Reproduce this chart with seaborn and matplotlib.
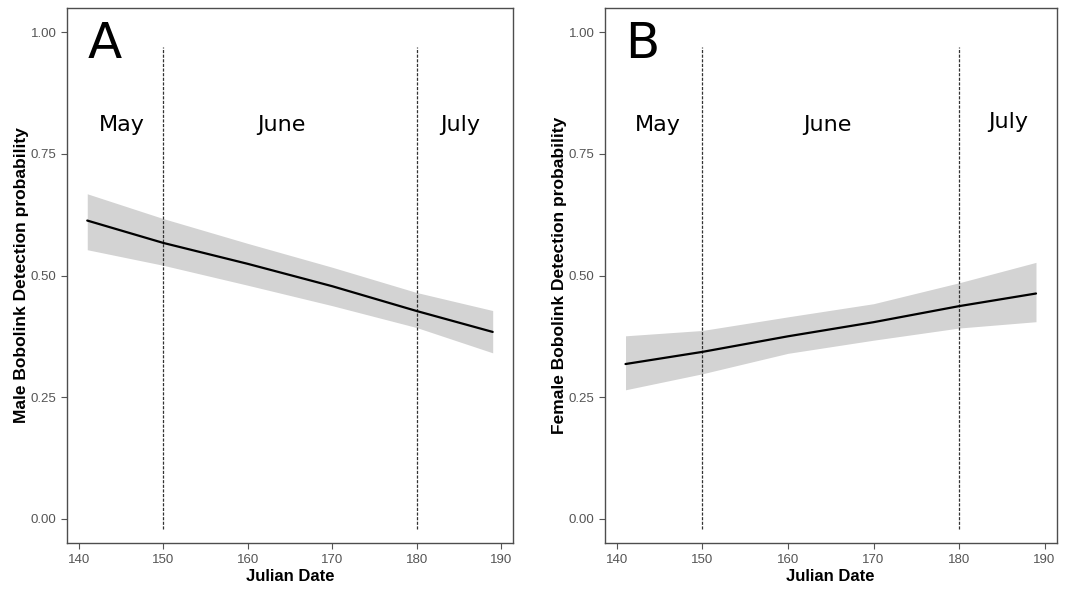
import numpy as np
import pandas as pd
import matplotlib
matplotlib.use("Agg")
import matplotlib.pyplot as plt
import seaborn as sns

# values
julian = [141, 150, 160, 170, 180, 189]

male_fit = [0.613, 0.567, 0.524, 0.478, 0.427, 0.384]
male_upper = [0.668, 0.617, 0.566, 0.517, 0.465, 0.428]
male_lower = [0.553, 0.521, 0.480, 0.438, 0.393, 0.341]

female_fit = [0.318, 0.343, 0.375, 0.404, 0.437, 0.463]
female_upper = [0.376, 0.387, 0.415, 0.442, 0.485, 0.527]
female_lower = [0.265, 0.298, 0.340, 0.367, 0.392, 0.405]

month_breaks = [150, 180]
month_names = ["May", "June", "July"]
month_x = {"A": [145.1, 164.0, 185.2], "B": [144.8, 164.6, 185.7]}
month_y = {"A": [0.81, 0.81, 0.81], "B": [0.81, 0.81, 0.815]}

sns.set_style("white")
plt.rcParams['font.family'] = ['Liberation Sans', 'DejaVu Sans']

fig = plt.figure(figsize=(10.7, 5.93), dpi=100)
axA = fig.add_axes([0.0626, 0.0843, 0.4168, 0.9022])
axB = fig.add_axes([0.5654, 0.0843, 0.4220, 0.9022])

panels = [
    (axA, "A", male_fit, male_upper, male_lower, "Male Bobolink Detection probability"),
    (axB, "B", female_fit, female_upper, female_lower, "Female Bobolink Detection probability"),
]

for ax, tag, fit, up, lo, ylab in panels:
    df = pd.DataFrame({"Julian Date": julian, "p": fit})
    ax.fill_between(julian, lo, up, color="#d3d3d3", lw=0, zorder=1)
    sns.lineplot(data=df, x="Julian Date", y="p", color="black", lw=1.6, ax=ax, zorder=3)
    for b in month_breaks:
        ax.plot([b, b], [-0.022, 0.97], ls=(0, (2.5, 1.2)), color="#333333", lw=0.9, zorder=2)
    for name, mx, my in zip(month_names, month_x[tag], month_y[tag]):
        ax.text(mx, my, name, ha="center", va="center", fontsize=16, color="black",
                family="DejaVu Sans")
    ax.text(141.0, 0.975, tag, ha="left", va="center", fontsize=36, color="black",
            family="DejaVu Sans")

    ax.set_xlim(138.6, 191.4)
    ax.set_ylim(-0.05, 1.05)
    ax.set_xticks([140, 150, 160, 170, 180, 190])
    ax.set_yticks([0.0, 0.25, 0.5, 0.75, 1.0])
    ax.set_yticklabels(["0.00", "0.25", "0.50", "0.75", "1.00"])
    ax.tick_params(axis="both", colors="#555555", labelsize=9.5, length=4, width=0.8,
                   direction="out", bottom=True, left=True)
    ax.tick_params(axis="x", pad=4)
    ax.set_xlabel("Julian Date", fontsize=12, fontweight="bold", color="black", labelpad=2)
    ax.set_ylabel(ylab, fontsize=12.5, fontweight="bold", color="black", labelpad=1)
    for s in ax.spines.values():
        s.set_color("#4d4d4d")
        s.set_linewidth(1.0)

fig.savefig("out.png", dpi=100, facecolor="white")
